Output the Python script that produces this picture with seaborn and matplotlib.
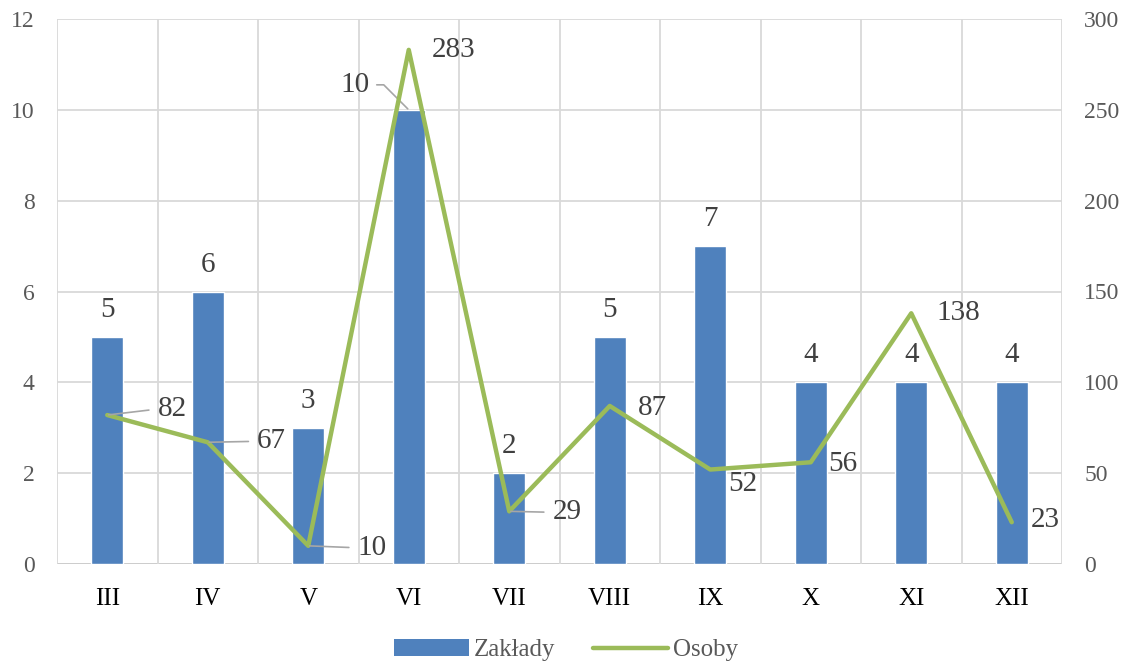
import numpy as np
import pandas as pd
import matplotlib
matplotlib.use("Agg")
import matplotlib.pyplot as plt
import seaborn as sns
from matplotlib.patches import Patch
from matplotlib.lines import Line2D

months = ["III", "IV", "V", "VI", "VII", "VIII", "IX", "X", "XI", "XII"]
zaklady = [5, 6, 3, 10, 2, 5, 7, 4, 4, 4]
osoby = [82, 67, 10, 283, 29, 87, 52, 56, 138, 23]

sns.set_theme(style="white")
plt.rcParams["font.family"] = ["Liberation Serif", "DejaVu Serif"]

BLUE = "#4f81bd"
GREEN = "#9bbb59"
GRID = "#d9d9d9"
LBL = "#404040"
TICK = "#595959"
LEAD = "#a6a6a6"

df = pd.DataFrame({"month": months, "Zakłady": zaklady, "Osoby": osoby})
df["pos"] = np.arange(len(df))

fig = plt.figure(figsize=(11.32, 6.68), dpi=100)
ax = fig.add_axes([57 / 1132, 104 / 668, 1005 / 1132, 545 / 668])

sns.barplot(data=df, x="month", y="Zakłady", color=BLUE, width=0.32,
            saturation=1, ax=ax, zorder=3)
ax.set_xlim(-0.5, len(months) - 0.5)
ax.set_ylim(0, 12)
ax.set_yticks(np.arange(0, 13, 2))
ax.set_xlabel("")
ax.set_ylabel("")
for s in ax.spines.values():
    s.set_visible(False)

# gridlines
for yv in np.arange(2, 13, 2):
    ax.axhline(yv, color=GRID, lw=1.3, zorder=0)
ax.axhline(0, color="#c8c8c8", lw=1.3, zorder=0)
for xv in np.arange(-0.5, len(months), 1.0):
    ax.axvline(xv, color=GRID, lw=1.3, zorder=0)

ax.tick_params(axis="y", labelsize=17, labelcolor=TICK, length=0, pad=16)
ax.tick_params(axis="x", labelsize=18, labelcolor="black", length=0, pad=17)

ax2 = ax.twinx()
sns.lineplot(data=df, x="pos", y="Osoby", color=GREEN, lw=3.2, ax=ax2,
             zorder=4, legend=False)
ax2.set_ylim(0, 300)
ax2.set_yticks(np.arange(0, 301, 50))
ax2.set_ylabel("")
ax2.set_xlabel("")
ax2.set_xlim(-0.5, len(months) - 0.5)
for s in ax2.spines.values():
    s.set_visible(False)
ax2.tick_params(axis="y", labelsize=17, labelcolor=TICK, length=0, pad=16)
ax2.grid(False)

FS = 21

# bar labels
for i, v in enumerate(zaklady):
    if i == 3:
        ax.annotate(str(v), xy=(i, v), xytext=(-54, 25), textcoords="offset pixels",
                    ha="center", va="center", fontsize=FS, color=LBL,
                    arrowprops=dict(arrowstyle="-", color=LEAD, lw=1.2,
                                    relpos=(1, 0.5), shrinkA=3, shrinkB=1,
                                    connectionstyle="angle,angleA=0,angleB=135,rad=0"))
    else:
        ax.annotate(str(v), xy=(i, v), xytext=(0, 27), textcoords="offset pixels",
                    ha="center", va="center", fontsize=FS, color=LBL)

# line labels
line_off = [(65, 6, True), (64, 1, True), (64, -2, True), (45, 0, False),
            (58, -1, True), (43, -2, False), (33, -14, False), (32, -2, False),
            (47, 0, False), (34, 2, False)]
for i, v in enumerate(osoby):
    dx, dy, lead = line_off[i]
    kw = {}
    if lead:
        kw["arrowprops"] = dict(arrowstyle="-", color=LEAD, lw=1.2,
                                relpos=(0, 0.5), shrinkA=4, shrinkB=1)
    ax2.annotate(str(v), xy=(i, v), xytext=(dx, dy), textcoords="offset pixels",
                 ha="center", va="center", fontsize=FS, color=LBL, zorder=6, **kw)

handles = [Patch(facecolor=BLUE, edgecolor="none", label="Zakłady"),
           Line2D([0], [0], color=GREEN, lw=3.2, label="Osoby")]
fig.legend(handles=handles, loc="center", bbox_to_anchor=(0.5, 18 / 668),
           ncol=2, frameon=False, fontsize=18, labelcolor=TICK,
           handlelength=3.0, handletextpad=0.2, columnspacing=1.5)

fig.savefig("out.png", dpi=100)
